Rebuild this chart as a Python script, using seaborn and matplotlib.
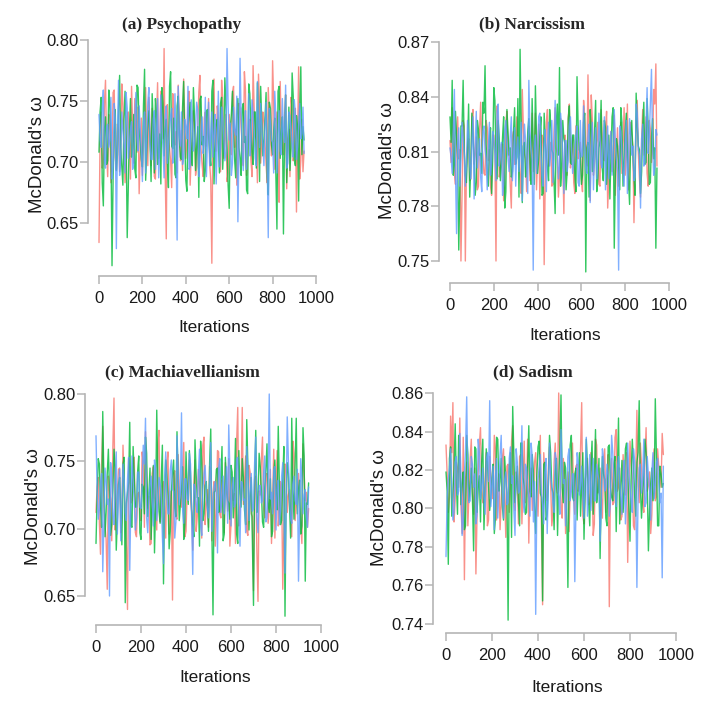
import numpy as np
import pandas as pd
import matplotlib
matplotlib.use('Agg')
from matplotlib import pyplot as plt
import seaborn as sns

# MCMC traces of McDonald's omega.
# *_at10: values at iterations 0, 10, 20, ... ; *_at5: values at iterations 5, 15, 25, ...
iterations_at10 = list(range(0, 950, 10))
iterations_at5 = list(range(5, 955, 10))
chains = ['Chain 1', 'Chain 2', 'Chain 3']
chain_colors = {'Chain 1': '#F8766D', 'Chain 2': '#00BA38', 'Chain 3': '#619CFF'}

psy_red_at10 = [0.634, 0.741, 0.702, 0.767, 0.688, 0.731, 0.712, 0.759, 0.694, 0.726, 0.705, 0.748, 0.683, 0.737, 0.716, 0.762, 0.699, 0.724, 0.745,
                0.707, 0.689, 0.734, 0.718, 0.753, 0.697, 0.729, 0.686, 0.765, 0.711, 0.742, 0.793, 0.637, 0.722, 0.701, 0.756, 0.714, 0.691, 0.738,
                0.726, 0.768, 0.703, 0.745, 0.681, 0.719, 0.733, 0.696, 0.757, 0.712, 0.688, 0.741, 0.725, 0.699, 0.617, 0.768, 0.709, 0.736, 0.692,
                0.751, 0.718, 0.684, 0.739, 0.706, 0.762, 0.727, 0.695, 0.744, 0.713, 0.774, 0.689, 0.731, 0.702, 0.779, 0.721, 0.683, 0.747, 0.715,
                0.734, 0.698, 0.761, 0.723, 0.783, 0.694, 0.741, 0.667, 0.728, 0.706, 0.755, 0.719, 0.688, 0.743, 0.712, 0.659, 0.778, 0.701, 0.692]
psy_red_at5 = [0.722, 0.695, 0.748, 0.711, 0.739, 0.683, 0.757, 0.704, 0.731, 0.692, 0.764, 0.716, 0.699, 0.741, 0.686, 0.729, 0.752, 0.708, 0.674,
               0.736, 0.715, 0.761, 0.697, 0.724, 0.744, 0.688, 0.733, 0.703, 0.758, 0.719, 0.691, 0.747, 0.712, 0.679, 0.738, 0.725, 0.763, 0.701,
               0.693, 0.734, 0.717, 0.758, 0.706, 0.742, 0.689, 0.727, 0.771, 0.698, 0.736, 0.713, 0.752, 0.685, 0.731, 0.709, 0.746, 0.721, 0.767,
               0.703, 0.739, 0.691, 0.724, 0.756, 0.712, 0.681, 0.748, 0.729, 0.697, 0.759, 0.707, 0.735, 0.688, 0.744, 0.718, 0.772, 0.699, 0.741,
               0.716, 0.683, 0.737, 0.705, 0.749, 0.722, 0.694, 0.766, 0.711, 0.738, 0.678, 0.727, 0.753, 0.701, 0.744, 0.719, 0.686, 0.735, 0.709]
psy_green_at10 = [0.708, 0.753, 0.664, 0.737, 0.701, 0.749, 0.615, 0.722, 0.693, 0.744, 0.712, 0.681, 0.758, 0.638, 0.727, 0.704, 0.739, 0.687, 0.761,
                  0.715, 0.696, 0.776, 0.709, 0.742, 0.684, 0.731, 0.752, 0.698, 0.723, 0.761, 0.705, 0.735, 0.679, 0.774, 0.711, 0.690, 0.746, 0.719,
                  0.702, 0.766, 0.685, 0.728, 0.749, 0.697, 0.738, 0.712, 0.671, 0.754, 0.721, 0.693, 0.743, 0.707, 0.758, 0.682, 0.731, 0.716, 0.748,
                  0.694, 0.769, 0.711, 0.662, 0.739, 0.725, 0.687, 0.752, 0.703, 0.744, 0.716, 0.677, 0.764, 0.729, 0.698, 0.741, 0.765, 0.684, 0.733,
                  0.719, 0.757, 0.673, 0.744, 0.706, 0.736, 0.645, 0.762, 0.724, 0.641, 0.755, 0.711, 0.693, 0.773, 0.702, 0.738, 0.668, 0.778, 0.729]
psy_green_at5 = [0.741, 0.683, 0.726, 0.698, 0.759, 0.715, 0.688, 0.743, 0.706, 0.771, 0.697, 0.734, 0.721, 0.679, 0.752, 0.711, 0.694, 0.763, 0.728,
                 0.702, 0.747, 0.685, 0.733, 0.718, 0.756, 0.691, 0.739, 0.709, 0.682, 0.748, 0.726, 0.699, 0.762, 0.713, 0.736, 0.687, 0.754, 0.704,
                 0.745, 0.719, 0.676, 0.738, 0.707, 0.761, 0.693, 0.729, 0.751, 0.714, 0.684, 0.742, 0.723, 0.697, 0.767, 0.709, 0.735, 0.691, 0.753,
                 0.716, 0.744, 0.681, 0.727, 0.758, 0.702, 0.739, 0.712, 0.689, 0.748, 0.721, 0.674, 0.756, 0.708, 0.741, 0.695, 0.731, 0.762, 0.705,
                 0.736, 0.688, 0.749, 0.714, 0.726, 0.692, 0.758, 0.703, 0.737, 0.719, 0.683, 0.745, 0.711, 0.754, 0.697, 0.729, 0.742, 0.706, 0.718]
psy_blue_at10 = [0.739, 0.712, 0.759, 0.695, 0.731, 0.718, 0.686, 0.748, 0.629, 0.767, 0.704, 0.726, 0.691, 0.744, 0.715, 0.733, 0.698, 0.757, 0.709,
                 0.727, 0.684, 0.741, 0.719, 0.761, 0.702, 0.735, 0.694, 0.752, 0.711, 0.728, 0.687, 0.746, 0.714, 0.738, 0.699, 0.756, 0.636, 0.723,
                 0.741, 0.703, 0.729, 0.762, 0.696, 0.734, 0.715, 0.749, 0.688, 0.726, 0.707, 0.753, 0.719, 0.697, 0.741, 0.725, 0.682, 0.758, 0.712,
                 0.736, 0.701, 0.793, 0.718, 0.689, 0.745, 0.722, 0.651, 0.785, 0.708, 0.731, 0.694, 0.756, 0.717, 0.741, 0.703, 0.766, 0.712, 0.728,
                 0.697, 0.749, 0.638, 0.733, 0.716, 0.758, 0.691, 0.742, 0.706, 0.725, 0.763, 0.699, 0.738, 0.714, 0.751, 0.702, 0.731, 0.719, 0.745]
psy_blue_at5 = [0.718, 0.744, 0.701, 0.729, 0.712, 0.753, 0.697, 0.736, 0.722, 0.689, 0.741, 0.714, 0.757, 0.703, 0.727, 0.694, 0.738, 0.719, 0.746,
                0.708, 0.733, 0.691, 0.749, 0.716, 0.702, 0.742, 0.724, 0.687, 0.755, 0.711, 0.737, 0.699, 0.726, 0.744, 0.706, 0.721, 0.762, 0.713,
                0.698, 0.735, 0.719, 0.694, 0.751, 0.709, 0.728, 0.743, 0.701, 0.737, 0.715, 0.688, 0.749, 0.722, 0.704, 0.739, 0.716, 0.696, 0.745,
                0.721, 0.708, 0.747, 0.732, 0.699, 0.726, 0.754, 0.711, 0.738, 0.693, 0.742, 0.719, 0.705, 0.751, 0.724, 0.697, 0.733, 0.748, 0.714,
                0.729, 0.702, 0.744, 0.718, 0.691, 0.737, 0.723, 0.709, 0.752, 0.716, 0.695, 0.741, 0.727, 0.704, 0.739, 0.712, 0.748, 0.723, 0.707]

nar_red_at10 = [0.816, 0.834, 0.798, 0.821, 0.806, 0.750, 0.827, 0.750, 0.812, 0.794, 0.829, 0.803, 0.818, 0.791, 0.837, 0.808, 0.797, 0.823, 0.811,
                0.786, 0.819, 0.750, 0.826, 0.801, 0.814, 0.793, 0.832, 0.807, 0.779, 0.821, 0.804, 0.816, 0.796, 0.844, 0.809, 0.788, 0.824, 0.813,
                0.799, 0.831, 0.806, 0.784, 0.819, 0.748, 0.826, 0.802, 0.815, 0.792, 0.834, 0.808, 0.797, 0.822, 0.776, 0.813, 0.829, 0.801, 0.818,
                0.787, 0.824, 0.809, 0.795, 0.838, 0.811, 0.852, 0.783, 0.827, 0.804, 0.816, 0.792, 0.833, 0.806, 0.821, 0.779, 0.814, 0.799, 0.830,
                0.808, 0.791, 0.826, 0.812, 0.797, 0.836, 0.803, 0.819, 0.771, 0.824, 0.809, 0.785, 0.833, 0.815, 0.798, 0.827, 0.804, 0.844, 0.858]
nar_red_at5 = [0.804, 0.821, 0.792, 0.829, 0.811, 0.786, 0.824, 0.801, 0.817, 0.795, 0.833, 0.808, 0.789, 0.822, 0.813, 0.798, 0.827, 0.805, 0.791,
               0.819, 0.808, 0.835, 0.796, 0.814, 0.783, 0.826, 0.809, 0.792, 0.818, 0.803, 0.829, 0.811, 0.787, 0.823, 0.806, 0.816, 0.794, 0.831,
               0.812, 0.789, 0.825, 0.803, 0.817, 0.796, 0.833, 0.807, 0.791, 0.821, 0.812, 0.785, 0.828, 0.804, 0.819, 0.797, 0.836, 0.809, 0.793,
               0.824, 0.806, 0.815, 0.788, 0.829, 0.802, 0.819, 0.841, 0.797, 0.812, 0.826, 0.791, 0.818, 0.805, 0.832, 0.794, 0.821, 0.809, 0.786,
               0.823, 0.812, 0.798, 0.834, 0.807, 0.789, 0.826, 0.813, 0.801, 0.838, 0.795, 0.817, 0.808, 0.829, 0.791, 0.822, 0.811, 0.836, 0.802]
nar_green_at10 = [0.829, 0.849, 0.803, 0.818, 0.756, 0.824, 0.849, 0.797, 0.812, 0.785, 0.831, 0.806, 0.793, 0.822, 0.809, 0.837, 0.857, 0.799, 0.816,
                  0.787, 0.845, 0.805, 0.827, 0.794, 0.818, 0.779, 0.833, 0.808, 0.796, 0.821, 0.803, 0.839, 0.866, 0.782, 0.815, 0.801, 0.828, 0.792,
                  0.813, 0.846, 0.798, 0.819, 0.786, 0.831, 0.807, 0.794, 0.825, 0.809, 0.776, 0.836, 0.856, 0.801, 0.817, 0.789, 0.828, 0.804, 0.819,
                  0.797, 0.851, 0.811, 0.792, 0.826, 0.744, 0.815, 0.833, 0.799, 0.821, 0.788, 0.812, 0.838, 0.794, 0.823, 0.806, 0.784, 0.829, 0.757,
                  0.817, 0.802, 0.834, 0.791, 0.821, 0.808, 0.781, 0.827, 0.796, 0.842, 0.813, 0.787, 0.824, 0.803, 0.839, 0.792, 0.818, 0.806, 0.757]
nar_green_at5 = [0.815, 0.797, 0.832, 0.806, 0.789, 0.824, 0.811, 0.793, 0.836, 0.802, 0.819, 0.786, 0.827, 0.808, 0.798, 0.831, 0.814, 0.791, 0.823,
                 0.806, 0.838, 0.795, 0.817, 0.803, 0.829, 0.788, 0.821, 0.812, 0.799, 0.834, 0.807, 0.785, 0.826, 0.813, 0.796, 0.821, 0.804, 0.839,
                 0.792, 0.818, 0.806, 0.829, 0.787, 0.815, 0.801, 0.833, 0.811, 0.794, 0.824, 0.808, 0.791, 0.827, 0.814, 0.799, 0.835, 0.803, 0.819,
                 0.788, 0.825, 0.809, 0.797, 0.831, 0.812, 0.785, 0.822, 0.806, 0.838, 0.795, 0.816, 0.801, 0.827, 0.792, 0.819, 0.808, 0.834, 0.798,
                 0.813, 0.789, 0.826, 0.805, 0.831, 0.795, 0.818, 0.809, 0.786, 0.824, 0.811, 0.799, 0.837, 0.804, 0.822, 0.793, 0.828, 0.812, 0.801]
nar_blue_at10 = [0.812, 0.798, 0.844, 0.765, 0.823, 0.806, 0.818, 0.791, 0.827, 0.803, 0.815, 0.784, 0.832, 0.809, 0.796, 0.821, 0.811, 0.789, 0.826,
                 0.804, 0.817, 0.794, 0.836, 0.808, 0.786, 0.822, 0.813, 0.799, 0.829, 0.805, 0.791, 0.818, 0.809, 0.783, 0.825, 0.802, 0.849, 0.812,
                 0.745, 0.819, 0.806, 0.831, 0.797, 0.814, 0.788, 0.826, 0.809, 0.793, 0.838, 0.811, 0.802, 0.823, 0.787, 0.816, 0.805, 0.829, 0.798,
                 0.812, 0.824, 0.791, 0.807, 0.835, 0.801, 0.818, 0.782, 0.826, 0.809, 0.795, 0.831, 0.803, 0.817, 0.789, 0.824, 0.810, 0.797, 0.833,
                 0.806, 0.745, 0.821, 0.799, 0.814, 0.787, 0.828, 0.808, 0.794, 0.836, 0.811, 0.779, 0.825, 0.803, 0.845, 0.818, 0.855, 0.797, 0.822]
nar_blue_at5 = [0.807, 0.822, 0.799, 0.814, 0.791, 0.826, 0.809, 0.803, 0.819, 0.795, 0.829, 0.812, 0.801, 0.817, 0.788, 0.824, 0.806, 0.813, 0.797,
                0.821, 0.809, 0.832, 0.802, 0.815, 0.792, 0.827, 0.806, 0.818, 0.794, 0.823, 0.811, 0.799, 0.826, 0.808, 0.816, 0.787, 0.821, 0.805,
                0.813, 0.798, 0.829, 0.809, 0.791, 0.822, 0.814, 0.802, 0.827, 0.806, 0.819, 0.795, 0.831, 0.809, 0.816, 0.799, 0.824, 0.811, 0.804,
                0.819, 0.793, 0.827, 0.808, 0.814, 0.798, 0.825, 0.811, 0.789, 0.823, 0.806, 0.817, 0.801, 0.829, 0.812, 0.795, 0.821, 0.807, 0.816,
                0.799, 0.824, 0.811, 0.791, 0.827, 0.805, 0.819, 0.813, 0.796, 0.831, 0.808, 0.817, 0.802, 0.825, 0.809, 0.836, 0.814, 0.801, 0.819]

mach_red_at10 = [0.712, 0.738, 0.681, 0.776, 0.703, 0.655, 0.729, 0.691, 0.797, 0.718, 0.744, 0.697, 0.762, 0.709, 0.640, 0.735, 0.721, 0.753, 0.694,
                 0.727, 0.706, 0.749, 0.772, 0.715, 0.688, 0.741, 0.724, 0.699, 0.773, 0.712, 0.735, 0.693, 0.757, 0.719, 0.647, 0.743, 0.707, 0.731,
                 0.716, 0.764, 0.698, 0.738, 0.722, 0.684, 0.751, 0.709, 0.733, 0.693, 0.768, 0.718, 0.701, 0.742, 0.726, 0.687, 0.758, 0.711, 0.736,
                 0.697, 0.729, 0.752, 0.703, 0.721, 0.689, 0.790, 0.714, 0.790, 0.735, 0.698, 0.747, 0.711, 0.654, 0.739, 0.646, 0.725, 0.768, 0.708,
                 0.741, 0.716, 0.689, 0.759, 0.723, 0.702, 0.735, 0.655, 0.748, 0.712, 0.729, 0.694, 0.756, 0.718, 0.741, 0.703, 0.763, 0.721, 0.701]
mach_red_at5 = [0.731, 0.704, 0.748, 0.716, 0.692, 0.739, 0.722, 0.761, 0.699, 0.727, 0.745, 0.708, 0.733, 0.686, 0.752, 0.719, 0.741, 0.697, 0.726,
                0.713, 0.757, 0.701, 0.738, 0.724, 0.689, 0.746, 0.717, 0.764, 0.705, 0.732, 0.714, 0.749, 0.696, 0.728, 0.741, 0.709, 0.755, 0.721,
                0.738, 0.694, 0.727, 0.751, 0.712, 0.733, 0.698, 0.744, 0.719, 0.762, 0.703, 0.729, 0.746, 0.691, 0.735, 0.716, 0.757, 0.708, 0.723,
                0.749, 0.713, 0.687, 0.738, 0.726, 0.764, 0.702, 0.731, 0.718, 0.754, 0.695, 0.742, 0.709, 0.737, 0.684, 0.728, 0.751, 0.715, 0.739,
                0.704, 0.744, 0.721, 0.693, 0.758, 0.714, 0.733, 0.699, 0.747, 0.725, 0.712, 0.765, 0.706, 0.731, 0.718, 0.689, 0.742, 0.727, 0.715]
mach_green_at10 = [0.689, 0.752, 0.718, 0.787, 0.694, 0.741, 0.726, 0.703, 0.759, 0.684, 0.733, 0.712, 0.748, 0.645, 0.727, 0.779, 0.701, 0.738, 0.716,
                   0.754, 0.692, 0.731, 0.768, 0.709, 0.745, 0.719, 0.682, 0.788, 0.713, 0.736, 0.659, 0.751, 0.724, 0.698, 0.741, 0.715, 0.772, 0.706,
                   0.729, 0.692, 0.757, 0.718, 0.741, 0.702, 0.766, 0.723, 0.687, 0.749, 0.711, 0.735, 0.698, 0.774, 0.636, 0.728, 0.745, 0.714, 0.761,
                   0.696, 0.733, 0.719, 0.747, 0.708, 0.767, 0.689, 0.726, 0.752, 0.714, 0.781, 0.699, 0.738, 0.643, 0.773, 0.721, 0.746, 0.705, 0.731,
                   0.763, 0.712, 0.694, 0.741, 0.725, 0.776, 0.703, 0.736, 0.635, 0.749, 0.718, 0.782, 0.707, 0.782, 0.729, 0.696, 0.775, 0.661, 0.718]
mach_green_at5 = [0.724, 0.748, 0.701, 0.736, 0.713, 0.759, 0.695, 0.729, 0.745, 0.707, 0.738, 0.688, 0.753, 0.719, 0.734, 0.702, 0.761, 0.716, 0.742,
                  0.697, 0.733, 0.711, 0.756, 0.725, 0.692, 0.747, 0.718, 0.735, 0.704, 0.762, 0.721, 0.739, 0.685, 0.728, 0.751, 0.709, 0.737, 0.717,
                  0.746, 0.703, 0.731, 0.758, 0.714, 0.694, 0.741, 0.723, 0.765, 0.706, 0.732, 0.718, 0.749, 0.699, 0.727, 0.744, 0.712, 0.736, 0.691,
                  0.753, 0.721, 0.707, 0.742, 0.731, 0.696, 0.758, 0.716, 0.738, 0.703, 0.747, 0.724, 0.689, 0.735, 0.712, 0.756, 0.728, 0.701, 0.744,
                  0.719, 0.737, 0.698, 0.751, 0.714, 0.733, 0.706, 0.761, 0.723, 0.741, 0.693, 0.729, 0.748, 0.711, 0.736, 0.702, 0.754, 0.719, 0.734]
mach_blue_at10 = [0.769, 0.707, 0.734, 0.668, 0.745, 0.718, 0.650, 0.739, 0.703, 0.757, 0.726, 0.691, 0.748, 0.712, 0.736, 0.669, 0.754, 0.721, 0.708,
                  0.742, 0.715, 0.762, 0.782, 0.697, 0.733, 0.719, 0.751, 0.706, 0.738, 0.724, 0.674, 0.757, 0.711, 0.743, 0.729, 0.693, 0.769, 0.718,
                  0.786, 0.704, 0.737, 0.721, 0.748, 0.666, 0.731, 0.712, 0.759, 0.695, 0.741, 0.726, 0.708, 0.764, 0.717, 0.735, 0.682, 0.752, 0.723,
                  0.711, 0.746, 0.777, 0.702, 0.738, 0.719, 0.753, 0.687, 0.734, 0.722, 0.761, 0.706, 0.741, 0.715, 0.768, 0.697, 0.732, 0.721, 0.754,
                  0.708, 0.800, 0.727, 0.744, 0.699, 0.736, 0.713, 0.749, 0.667, 0.783, 0.725, 0.704, 0.739, 0.718, 0.661, 0.752, 0.711, 0.729, 0.701]
mach_blue_at5 = [0.728, 0.714, 0.741, 0.703, 0.735, 0.722, 0.749, 0.709, 0.731, 0.696, 0.744, 0.718, 0.737, 0.706, 0.753, 0.721, 0.734, 0.699, 0.742,
                 0.716, 0.731, 0.748, 0.708, 0.725, 0.739, 0.702, 0.745, 0.719, 0.733, 0.694, 0.739, 0.723, 0.711, 0.751, 0.728, 0.705, 0.741, 0.726,
                 0.714, 0.737, 0.722, 0.756, 0.709, 0.733, 0.718, 0.741, 0.702, 0.729, 0.747, 0.715, 0.736, 0.698, 0.731, 0.724, 0.745, 0.712, 0.739,
                 0.726, 0.704, 0.743, 0.729, 0.716, 0.752, 0.711, 0.735, 0.721, 0.697, 0.744, 0.727, 0.713, 0.749, 0.708, 0.732, 0.719, 0.741, 0.705,
                 0.736, 0.722, 0.711, 0.746, 0.729, 0.703, 0.739, 0.724, 0.715, 0.751, 0.707, 0.733, 0.721, 0.744, 0.712, 0.738, 0.725, 0.709, 0.731]

sad_red_at10 = [0.833, 0.798, 0.848, 0.855, 0.805, 0.821, 0.847, 0.787, 0.763, 0.824, 0.809, 0.836, 0.797, 0.766, 0.819, 0.842, 0.803, 0.815, 0.791,
                0.827, 0.809, 0.838, 0.794, 0.818, 0.803, 0.831, 0.785, 0.823, 0.811, 0.843, 0.799, 0.816, 0.827, 0.792, 0.835, 0.808, 0.782, 0.821,
                0.806, 0.829, 0.796, 0.838, 0.750, 0.818, 0.804, 0.832, 0.791, 0.824, 0.812, 0.860, 0.801, 0.826, 0.787, 0.819, 0.809, 0.834, 0.797,
                0.823, 0.811, 0.855, 0.792, 0.818, 0.802, 0.829, 0.786, 0.836, 0.808, 0.821, 0.795, 0.831, 0.812, 0.749, 0.826, 0.803, 0.841, 0.811,
                0.794, 0.828, 0.807, 0.772, 0.835, 0.816, 0.789, 0.851, 0.803, 0.823, 0.798, 0.842, 0.812, 0.787, 0.825, 0.804, 0.831, 0.818, 0.839]
sad_red_at5 = [0.818, 0.806, 0.829, 0.793, 0.824, 0.811, 0.802, 0.837, 0.815, 0.791, 0.826, 0.808, 0.821, 0.797, 0.833, 0.812, 0.803, 0.829, 0.794,
               0.817, 0.805, 0.831, 0.813, 0.789, 0.826, 0.809, 0.822, 0.798, 0.835, 0.806, 0.819, 0.792, 0.828, 0.811, 0.803, 0.836, 0.815, 0.799,
               0.824, 0.809, 0.817, 0.791, 0.829, 0.806, 0.821, 0.813, 0.797, 0.834, 0.808, 0.823, 0.795, 0.818, 0.812, 0.788, 0.827, 0.805, 0.822,
               0.809, 0.831, 0.796, 0.815, 0.826, 0.803, 0.819, 0.792, 0.833, 0.811, 0.806, 0.824, 0.798, 0.828, 0.813, 0.802, 0.837, 0.809, 0.821,
               0.796, 0.816, 0.829, 0.807, 0.823, 0.791, 0.818, 0.812, 0.834, 0.803, 0.826, 0.809, 0.819, 0.797, 0.831, 0.806, 0.822, 0.811, 0.828]
sad_green_at10 = [0.819, 0.771, 0.832, 0.808, 0.844, 0.797, 0.826, 0.813, 0.789, 0.838, 0.804, 0.821, 0.778, 0.831, 0.811, 0.793, 0.836, 0.807, 0.824,
                  0.799, 0.816, 0.787, 0.837, 0.809, 0.826, 0.794, 0.815, 0.742, 0.829, 0.853, 0.803, 0.822, 0.791, 0.834, 0.812, 0.798, 0.843, 0.806,
                  0.819, 0.787, 0.832, 0.808, 0.752, 0.824, 0.797, 0.838, 0.811, 0.789, 0.826, 0.815, 0.859, 0.803, 0.821, 0.759, 0.833, 0.806, 0.818,
                  0.794, 0.829, 0.812, 0.784, 0.836, 0.803, 0.822, 0.797, 0.841, 0.809, 0.774, 0.827, 0.815, 0.791, 0.833, 0.806, 0.823, 0.788, 0.847,
                  0.812, 0.798, 0.831, 0.819, 0.783, 0.836, 0.807, 0.824, 0.856, 0.795, 0.817, 0.829, 0.778, 0.813, 0.804, 0.857, 0.791, 0.822, 0.811]
sad_green_at5 = [0.809, 0.826, 0.796, 0.821, 0.813, 0.838, 0.802, 0.819, 0.791, 0.828, 0.811, 0.805, 0.832, 0.798, 0.817, 0.824, 0.789, 0.831, 0.812,
                 0.806, 0.823, 0.795, 0.836, 0.814, 0.801, 0.827, 0.808, 0.819, 0.785, 0.829, 0.812, 0.803, 0.834, 0.816, 0.797, 0.822, 0.809, 0.828,
                 0.801, 0.817, 0.835, 0.806, 0.823, 0.794, 0.812, 0.829, 0.808, 0.818, 0.786, 0.831, 0.811, 0.824, 0.799, 0.815, 0.838, 0.804, 0.821,
                 0.813, 0.796, 0.829, 0.808, 0.822, 0.791, 0.835, 0.814, 0.803, 0.826, 0.809, 0.818, 0.795, 0.832, 0.811, 0.804, 0.827, 0.816, 0.792,
                 0.825, 0.809, 0.834, 0.801, 0.817, 0.823, 0.796, 0.829, 0.812, 0.807, 0.836, 0.814, 0.799, 0.821, 0.808, 0.826, 0.791, 0.818, 0.813]
sad_blue_at10 = [0.775, 0.815, 0.831, 0.794, 0.824, 0.807, 0.839, 0.786, 0.818, 0.858, 0.803, 0.827, 0.811, 0.792, 0.836, 0.805, 0.821, 0.797, 0.829,
                 0.856, 0.812, 0.789, 0.826, 0.808, 0.838, 0.795, 0.819, 0.803, 0.832, 0.817, 0.786, 0.824, 0.809, 0.843, 0.798, 0.821, 0.806, 0.834,
                 0.793, 0.745, 0.815, 0.828, 0.802, 0.819, 0.787, 0.834, 0.811, 0.798, 0.825, 0.806, 0.841, 0.813, 0.791, 0.827, 0.804, 0.818, 0.762,
                 0.829, 0.807, 0.822, 0.795, 0.837, 0.812, 0.799, 0.826, 0.804, 0.818, 0.783, 0.831, 0.809, 0.823, 0.796, 0.838, 0.814, 0.801, 0.827,
                 0.806, 0.819, 0.792, 0.834, 0.811, 0.798, 0.825, 0.759, 0.821, 0.808, 0.836, 0.803, 0.817, 0.794, 0.829, 0.812, 0.826, 0.803, 0.764]
sad_blue_at5 = [0.806, 0.821, 0.813, 0.798, 0.827, 0.809, 0.816, 0.793, 0.831, 0.812, 0.804, 0.823, 0.818, 0.797, 0.829, 0.811, 0.806, 0.825, 0.814,
                0.801, 0.822, 0.817, 0.795, 0.828, 0.809, 0.815, 0.802, 0.826, 0.813, 0.799, 0.831, 0.808, 0.819, 0.804, 0.823, 0.811, 0.796, 0.827,
                0.814, 0.805, 0.821, 0.808, 0.792, 0.826, 0.812, 0.817, 0.803, 0.829, 0.811, 0.797, 0.822, 0.815, 0.806, 0.831, 0.809, 0.818, 0.801,
                0.824, 0.812, 0.807, 0.819, 0.796, 0.828, 0.813, 0.804, 0.823, 0.815, 0.799, 0.826, 0.811, 0.817, 0.803, 0.829, 0.808, 0.821, 0.814,
                0.797, 0.825, 0.809, 0.818, 0.804, 0.831, 0.812, 0.806, 0.823, 0.816, 0.801, 0.827, 0.811, 0.819, 0.805, 0.824, 0.813, 0.808, 0.822]

titles = ['(a) Psychopathy', '(b) Narcissism', '(c) Machiavellianism', '(d) Sadism']
series = [
    [(psy_red_at10, psy_red_at5), (psy_green_at10, psy_green_at5), (psy_blue_at10, psy_blue_at5)],
    [(nar_red_at10, nar_red_at5), (nar_green_at10, nar_green_at5), (nar_blue_at10, nar_blue_at5)],
    [(mach_red_at10, mach_red_at5), (mach_green_at10, mach_green_at5), (mach_blue_at10, mach_blue_at5)],
    [(sad_red_at10, sad_red_at5), (sad_green_at10, sad_green_at5), (sad_blue_at10, sad_blue_at5)],
]
yticks = [[0.65, 0.70, 0.75, 0.80], [0.75, 0.78, 0.81, 0.84, 0.87],
          [0.65, 0.70, 0.75, 0.80], [0.74, 0.76, 0.78, 0.80, 0.82, 0.84, 0.86]]
xticks = [0, 200, 400, 600, 800, 1000]

# pixel layout of each pasted panel:
# left spine x, x of iteration 0, x of 1000, y of top tick, y of bottom tick, y of x axis,
# title centre, y-label centre, x-label centre
layout = [
    dict(spine=88, x0=99, x1=316, ytop=40, ybot=223, axis=276, title=(182, 25), ylab=(38, 155), xlab=(214, 328)),
    dict(spine=439, x0=450, x1=669, ytop=42, ybot=261, axis=283, title=(532, 24), ylab=(388, 161), xlab=(565, 335)),
    dict(spine=85, x0=96, x1=321, ytop=394, ybot=596, axis=625, title=(182, 372), ylab=(33, 507), xlab=(215, 678)),
    dict(spine=433, x0=446, x1=676, ytop=393, ybot=624, axis=633, title=(533, 372), ylab=(379, 508), xlab=(567, 687)),
]

W, H = 721, 714
sns.set_style('ticks')
plt.rcParams['font.family'] = ['Liberation Sans', 'DejaVu Sans']

fig = plt.figure(figsize=(W / 100, H / 100), dpi=100)

for title, chain_vals, ticks, lay in zip(titles, series, yticks, layout):
    parts = []
    for name, (at10, at5) in zip(chains, chain_vals):
        parts.append(pd.DataFrame({'iteration': iterations_at10 + iterations_at5,
                                   'omega': list(at10) + list(at5), 'chain': name}))
    df = pd.concat(parts, ignore_index=True)

    sx = (lay['x1'] - lay['x0']) / 1000
    right = lay['x1'] + 4
    top = lay['ytop'] - 5
    sy = (lay['ybot'] - lay['ytop']) / (ticks[-1] - ticks[0])

    def yval(p):
        return ticks[-1] - (p - lay['ytop']) / sy

    ax = fig.add_axes([lay['spine'] / W, 1 - lay['axis'] / H,
                       (right - lay['spine']) / W, (lay['axis'] - top) / H])
    sns.lineplot(data=df, x='iteration', y='omega', hue='chain', hue_order=chains,
                 palette=chain_colors, estimator=None, sort=True, legend=False,
                 linewidth=1.0, alpha=0.8, ax=ax)
    ax.set_xlim((lay['spine'] - lay['x0']) / sx, (right - lay['x0']) / sx)
    ax.set_ylim(yval(lay['axis']), yval(top))

    for s in ['top', 'right']:
        ax.spines[s].set_visible(False)
    for s in ['left', 'bottom']:
        ax.spines[s].set_color('#b5b5b5')
        ax.spines[s].set_linewidth(1.2)
    ax.spines['left'].set_bounds(ticks[0], ticks[-1])
    ax.spines['bottom'].set_bounds(0, 1000)

    ax.set_yticks(ticks)
    ax.set_yticklabels([f'{t:.2f}' for t in ticks])
    ax.set_xticks(xticks)
    ax.set_xticklabels([str(t) for t in xticks])
    ax.tick_params(direction='out', length=6, width=1.1, color='#b5b5b5',
                   labelsize=12, labelcolor='#1a1a1a', left=True, bottom=True)
    ax.tick_params(axis='y', pad=1)
    ax.tick_params(axis='x', pad=5)
    ax.set_xlabel('')
    ax.set_ylabel('')

    fig.text(lay['title'][0] / W, 1 - lay['title'][1] / H, title, ha='center', va='center',
             family=['Liberation Serif', 'DejaVu Serif'], fontweight='bold', fontsize=12.5)
    fig.text(lay['ylab'][0] / W, 1 - lay['ylab'][1] / H, "McDonald's ω", rotation=90,
             ha='center', va='center', fontsize=13.5, color='#1a1a1a')
    fig.text(lay['xlab'][0] / W, 1 - lay['xlab'][1] / H, 'Iterations',
             ha='center', va='center', fontsize=12.5, color='#1a1a1a')

fig.savefig('out.png', dpi=100)
